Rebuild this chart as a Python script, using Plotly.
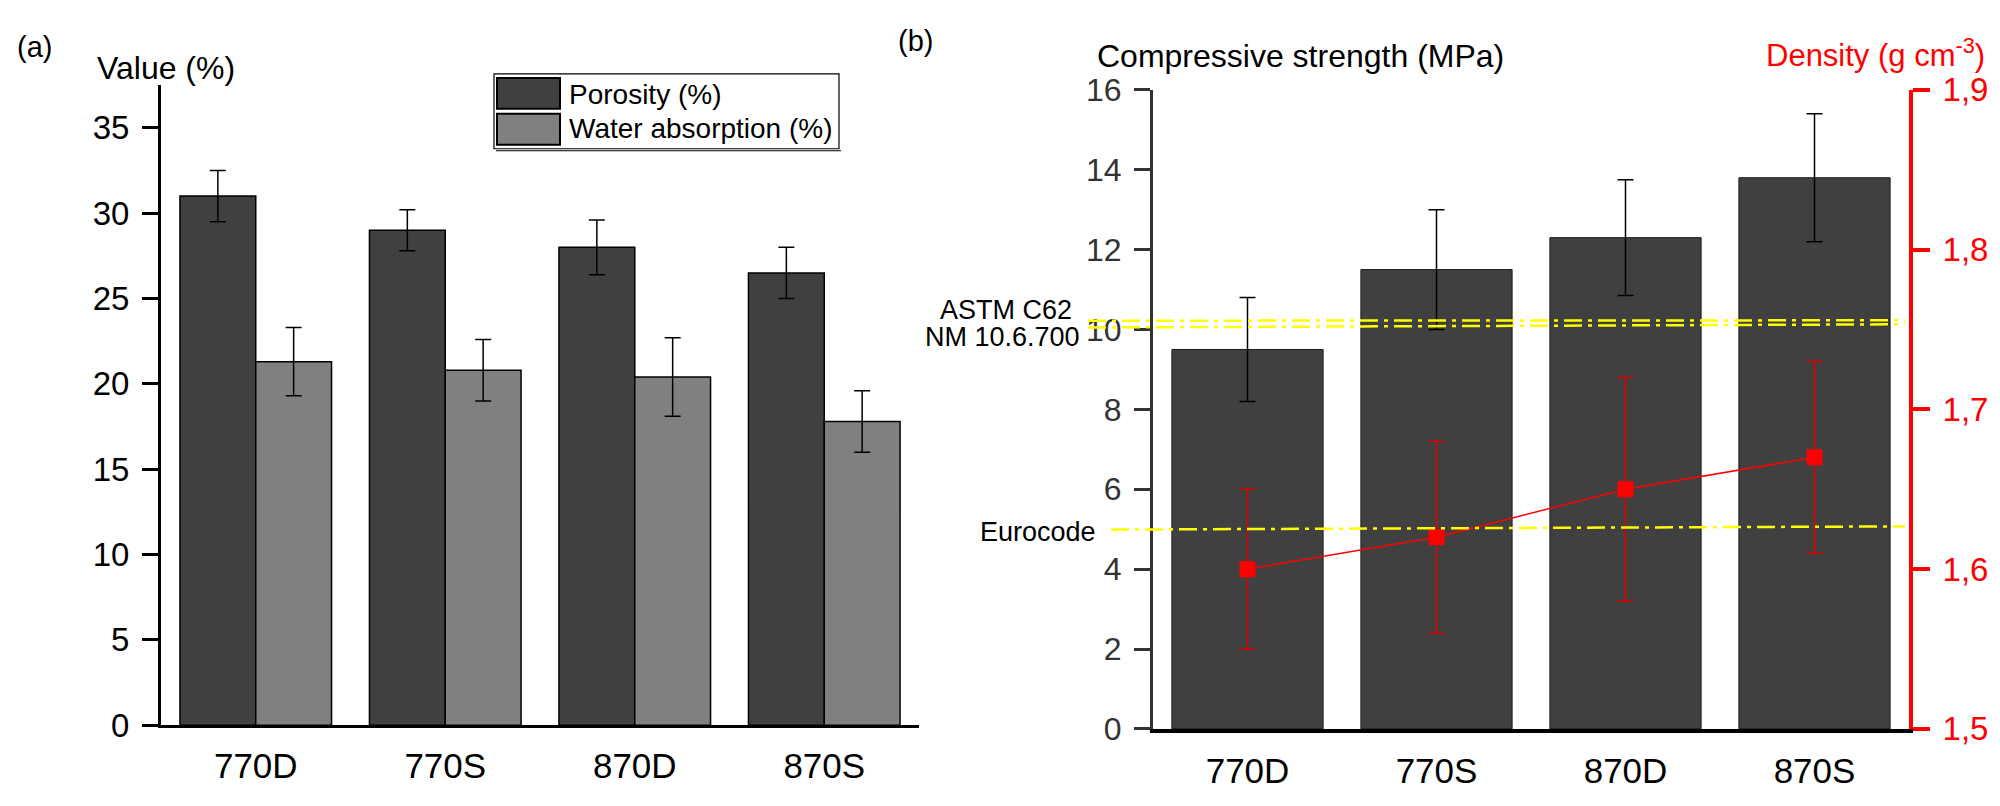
import plotly.graph_objects as go

W, H = 2000, 806
FONT = "Liberation Sans, Arial, sans-serif"

# ---------------- data ----------------
categories = ["770D", "770S", "870D", "870S"]
porosity = [31.0, 29.0, 28.0, 26.5]
porosity_err = [1.5, 1.2, 1.6, 1.5]
water_abs = [21.3, 20.8, 20.4, 17.8]
water_abs_err = [2.0, 1.8, 2.3, 1.8]
strength = [9.5, 11.5, 12.3, 13.8]
strength_err = [1.3, 1.5, 1.45, 1.6]
density = [1.60, 1.62, 1.65, 1.67]
density_err = [0.05, 0.06, 0.07, 0.06]
left_ticks = [0, 5, 10, 15, 20, 25, 30, 35]
right_ticks = [0, 2, 4, 6, 8, 10, 12, 14, 16]
density_ticks = [1.5, 1.6, 1.7, 1.8, 1.9]
density_ticktext = ["1,5", "1,6", "1,7", "1,8", "1,9"]
astm_level = [10.22, 10.23]
nm_level = [10.05, 10.13]
euro_level = [4.99, 5.07]


def px(x):
    return x / W


def py(y):
    # vertical placement (pixels from top) -> paper fraction
    t = (y - 17) / 0.956
    return 1 - t / H


fig = go.Figure()

# ---------------- panel (a) ----------------
fig.add_trace(go.Bar(
    x=categories, y=porosity, name="Porosity (%)",
    marker=dict(color="#404040", line=dict(color="black", width=1.5)),
    error_y=dict(type="data", array=porosity_err, color="black", thickness=1.5, width=8),
    xaxis="x", yaxis="y", offsetgroup="a1", showlegend=False,
))
fig.add_trace(go.Bar(
    x=categories, y=water_abs, name="Water absorption (%)",
    marker=dict(color="#808080", line=dict(color="black", width=1.5)),
    error_y=dict(type="data", array=water_abs_err, color="black", thickness=1.5, width=8),
    xaxis="x", yaxis="y", offsetgroup="a2", showlegend=False,
))

# ---------------- panel (b) ----------------
fig.add_trace(go.Bar(
    x=categories, y=strength, name="Compressive strength",
    marker=dict(color="#404040", line=dict(color="#1a1a1a", width=1)),
    error_y=dict(type="data", array=strength_err, color="black", thickness=1.5, width=8),
    xaxis="x2", yaxis="y2", offsetgroup="b1", showlegend=False,
))
fig.add_trace(go.Scatter(
    x=categories, y=density, name="Density",
    mode="lines+markers",
    line=dict(color="#ff0000", width=1.5),
    marker=dict(symbol="square", size=16, color="#ff0000"),
    error_y=dict(type="data", array=density_err, color="#e00000", thickness=1.5, width=8),
    xaxis="x2", yaxis="y3", showlegend=False,
))

axis_font = dict(family=FONT, color="black")

fig.update_layout(
    width=W, height=H,
    margin=dict(l=0, r=0, t=0, b=0),
    paper_bgcolor="white", plot_bgcolor="rgba(0,0,0,0)",
    barmode="group", bargap=0.2, bargroupgap=0,
    font=dict(family=FONT, color="black"),
    xaxis=dict(
        domain=[px(161), px(919)], anchor="y", type="category",
        range=[-0.5, 3.5], showline=True, linecolor="black", linewidth=3,
        ticks="", showgrid=False, zeroline=False,
        tickfont=dict(size=35, **axis_font), ticklabelstandoff=8,
    ),
    yaxis=dict(
        domain=[py(725.7), py(84.3)], anchor="x", range=[0, 37.5],
        tickvals=left_ticks, ticks="outside", ticklen=16, tickwidth=3,
        tickcolor="black", showline=True, linecolor="black", linewidth=3,
        showgrid=False, zeroline=False,
        tickfont=dict(size=33, **axis_font), ticklabelstandoff=6,
    ),
    xaxis2=dict(
        domain=[px(1153), px(1909)], anchor="y2", type="category",
        range=[-0.5, 3.5], showline=True, linecolor="black", linewidth=3.5,
        ticks="", showgrid=False, zeroline=False,
        tickfont=dict(size=35, **axis_font), ticklabelstandoff=8,
    ),
    yaxis2=dict(
        domain=[py(729.3), py(89)], anchor="x2", range=[0, 16],
        tickvals=right_ticks, ticks="outside", ticklen=16, tickwidth=3,
        tickcolor="#333333", showline=True, linecolor="#333333", linewidth=3,
        showgrid=False, zeroline=False,
        tickfont=dict(size=32, family=FONT, color="#333333"), ticklabelstandoff=6,
    ),
    yaxis3=dict(
        overlaying="y2", side="right", anchor="x2", range=[1.5, 1.9],
        tickvals=density_ticks, ticktext=density_ticktext,
        ticks="outside", ticklen=17, tickwidth=4, tickcolor="#ff0000",
        showline=True, linecolor="#ff0000", linewidth=4,
        showgrid=False, zeroline=False,
        tickfont=dict(size=33, family=FONT, color="#ff0000"), ticklabelstandoff=6,
    ),
)

# ---------------- reference lines (panel b) ----------------
dash = "18px,6px,4px,6px"
for x0, lv in [(1088, astm_level), (1088, nm_level), (1111, euro_level)]:
    fig.add_shape(type="line", xref="paper", yref="y2",
                  x0=px(x0), x1=px(1905), y0=lv[0], y1=lv[1],
                  line=dict(color="#ffff00", width=2.5, dash=dash), layer="above")

# ---------------- manual legend (panel a) ----------------
fig.add_shape(type="line", xref="paper", yref="paper",
              x0=px(496), x1=px(841), y0=py(150), y1=py(150),
              line=dict(color="black", width=1))
fig.add_shape(type="rect", xref="paper", yref="paper",
              x0=px(494), x1=px(839), y0=py(148), y1=py(73),
              line=dict(color="black", width=1.2), fillcolor="white")
fig.add_shape(type="rect", xref="paper", yref="paper",
              x0=px(497), x1=px(560), y0=py(108), y1=py(77),
              line=dict(color="black", width=2), fillcolor="#404040")
fig.add_shape(type="rect", xref="paper", yref="paper",
              x0=px(497), x1=px(560), y0=py(144), y1=py(113),
              line=dict(color="black", width=2), fillcolor="#808080")


def text(s, x, y, size, xanchor="center", color="black"):
    fig.add_annotation(text=s, x=px(x), y=py(y), xref="paper", yref="paper",
                       xanchor=xanchor, yanchor="middle", showarrow=False,
                       font=dict(family=FONT, size=size, color=color))


text("Porosity (%)", 567, 94, 28, xanchor="left")
text("Water absorption (%)", 567, 128, 28, xanchor="left")

# ---------------- titles / labels ----------------
text("(a)", 34, 46, 29)
text("(b)", 915, 40, 29)
text("Value (%)", 166, 67, 32)
text("Compressive strength (MPa)", 1300, 55, 32)
text("Density (g cm<sup>-3</sup>)", 1987, 52, 31, xanchor="right", color="#ff0000")
text("ASTM C62", 1006, 310, 27)
text("NM 10.6.700", 1002, 337, 27)
text("Eurocode", 1098, 532, 27, xanchor="right")

fig.write_html("out.html")
